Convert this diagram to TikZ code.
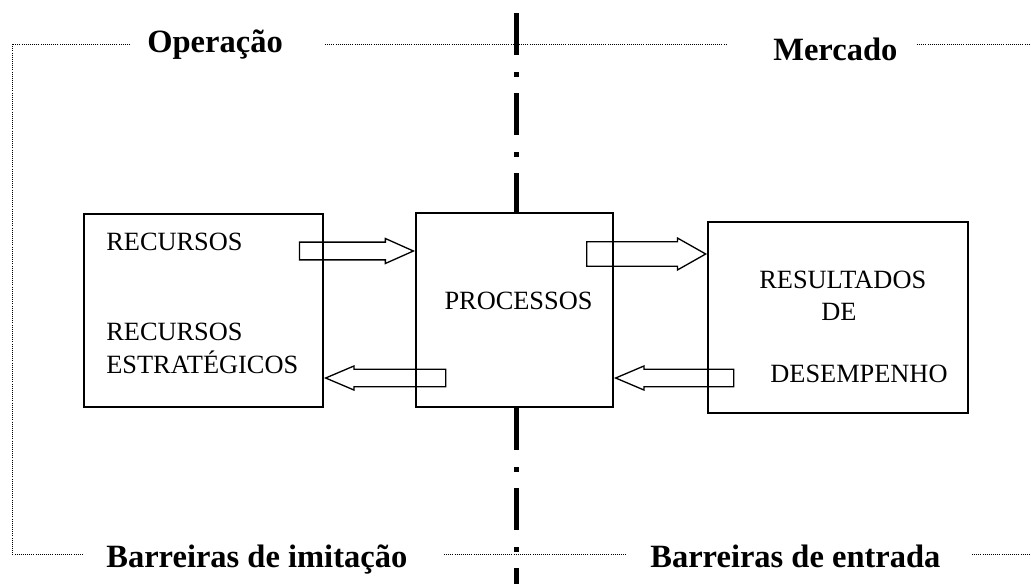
\documentclass[tikz,border=0pt]{standalone}
\usepackage{fontspec}
\setmainfont{Liberation Serif}
\usetikzlibrary{shapes.arrows}

\tikzset{
  caixa/.style={draw, line width=1.1pt, fill=white, inner sep=0pt},
  rotulo/.style={inner sep=0pt, anchor=base west, font=\fontsize{15}{18}\selectfont},
  titulo/.style={inner sep=0pt, anchor=base west, font=\fontsize{18.5}{22}\selectfont\bfseries},
  moldura/.style={line width=0.5pt, dash pattern=on 0.5pt off 0.7pt},
  divisa/.style={line width=2.5pt, dash pattern=on 0.84cm off 0.34cm on 0.1cm off 0.32cm},
  seta/.style={single arrow, draw, line width=0.75pt, inner xsep=0pt, inner ysep=0.12cm,
    minimum width=0.48cm, single arrow head extend=0.05cm, single arrow tip angle=46, anchor=tip}
}

\begin{document}
\begin{tikzpicture}
	\useasboundingbox (0,0) rectangle (20.62,11.68);
	% moldura pontilhada
	\draw[moldura] (2.6,10.8) -- (0.24,10.8) -- (0.24,0.6) -- (1.66,0.6);
	\draw[moldura] (6.5,10.8) -- (14.54,10.8);
	\draw[moldura] (18.34,10.8) -- (20.62,10.8);
	\draw[moldura] (8.88,0.6) -- (12.54,0.6);
	\draw[moldura] (19.44,0.6) -- (20.62,0.6);
	% titulos
	\node[titulo] (operacao) at (2.94,10.62) {Operação};
	\node[titulo] (mercado) at (15.46,10.46) {Mercado};
	\node[titulo] (imitacao) at (2.12,0.34) {Barreiras de imitação};
	\node[titulo] (entrada) at (13.0,0.34) {Barreiras de entrada};
	% caixas
	\node[caixa, minimum width=4.78cm, minimum height=3.86cm] (recursos) at (4.07,5.47) {};
	\node[caixa, minimum width=3.94cm, minimum height=3.88cm] (processos) at (10.29,5.48) {};
	\node[caixa, minimum width=5.2cm, minimum height=3.82cm] (resultados) at (16.76,5.33) {};
	% linha divisoria
	\draw[divisa] (10.33,11.42) -- (10.33,0 |- processos.north);
	\draw[divisa] (10.33,0 |- processos.south) -- (10.33,0);
	% textos
	\node[rotulo] (rec1) at (2.12,6.68) {RECURSOS};
	\node[rotulo] (rec2) at (2.12,4.88) {RECURSOS};
	\node[rotulo] (rec3) at (2.12,4.22) {ESTRATÉGICOS};
	\node[rotulo, anchor=base] (proc1) at (10.37,5.5) {PROCESSOS};
	\node[rotulo] (res1) at (15.18,5.92) {RESULTADOS};
	\node[rotulo] (res2) at (16.42,5.28) {DE};
	\node[rotulo] (res3) at (15.4,4.04) {DESEMPENHO};
	% setas
	\node[seta, minimum height=2.28cm, inner ysep=0.11cm, minimum width=0.5cm, single arrow tip angle=48] (s1) at (processos.west |- 0,6.66) {};
	\node[seta, minimum height=2.4cm, shape border rotate=180] (s2) at (recursos.east |- 0,4.12) {};
	\node[seta, minimum height=2.38cm, inner ysep=0.15cm, minimum width=0.64cm, single arrow tip angle=59] (s3) at (resultados.west |- 0,6.6) {};
	\node[seta, minimum height=2.36cm, shape border rotate=180] (s4) at (processos.east |- 0,4.12) {};
\end{tikzpicture}
\end{document}
